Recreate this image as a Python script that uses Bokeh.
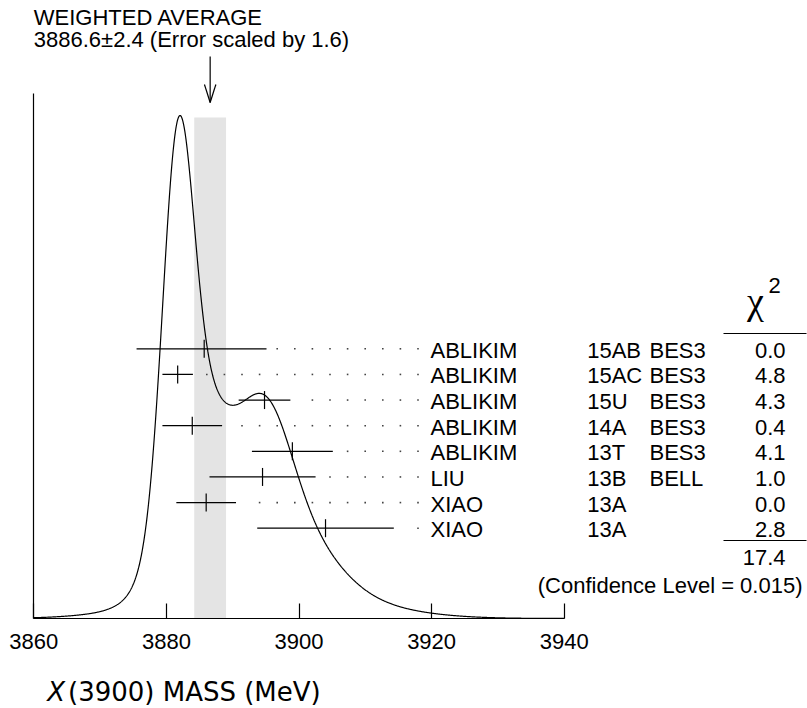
import numpy as np
from bokeh.plotting import figure
from bokeh.models import Range1d, LinearAxis, FixedTicker, ColumnDataSource, Label
from bokeh.core.properties import value
from bokeh.embed import file_html
from bokeh.resources import INLINE

# ---------------- data ----------------
names = ["ABLIKIM", "ABLIKIM", "ABLIKIM", "ABLIKIM", "ABLIKIM", "LIU", "XIAO", "XIAO"]
years = ["15AB", "15AC", "15U", "14A", "13T", "13B", "13A", "13A"]
expts = ["BES3", "BES3", "BES3", "BES3", "BES3", "BELL", "", ""]
mass = [3885.7, 3881.7, 3894.8, 3883.9, 3899.0, 3894.5, 3886.0, 3904.0]
err_lo = [10.2, 2.3, 3.9, 4.5, 6.1, 8.0, 4.5, 10.3]
err_hi = [9.4, 2.3, 3.9, 4.5, 6.1, 8.0, 4.5, 10.3]
chi2 = ["0.0", "4.8", "4.3", "0.4", "4.1", "1.0", "0.0", "2.8"]
chi2_total = "17.4"
conf_level = "0.015"
avg = 3886.6
avg_err = 2.4
err_scale = "1.6"
tick_values = [3860, 3880, 3900, 3920, 3940]
x_min, x_max = 3860, 3940

# ---------------- layout constants ----------------
W, H = 807, 708
PX = 6.63                      # pixels per MeV
X0 = x_min - 33.3 / PX         # data x at canvas left


def px2x(px):
    return x_min + (px - 33.3) / PX


FONT = "Liberation Sans"
FS = "22px"
row_top = 269.7
row_step = 25.63
row_y = [row_top - i * row_step for i in range(len(names))]
peak_h = 503.0

p = figure(width=W, height=H, x_range=Range1d(X0, X0 + W / PX), y_range=Range1d(-90, 618),
           output_backend="svg", toolbar_location=None,
           x_axis_location=None, y_axis_location=None, min_border=0)
p.outline_line_color = None
p.grid.visible = False
p.background_fill_color = "white"
p.border_fill_color = "white"

# weighted average band
p.quad(left=[avg - avg_err], right=[avg + avg_err], bottom=[0], top=[peak_h - 2],
       fill_color="#e4e4e4", line_color=None)

# ideogram curve
xs = np.linspace(x_min, x_max, 1601)
dens = np.zeros_like(xs)
for m, lo, hi in zip(mass, err_lo, err_hi):
    s_mean = 0.5 * (lo + hi)
    sig = np.where(xs < m, lo, hi)
    dens += (1.0 / s_mean ** 2) * np.exp(-0.5 * ((xs - m) / sig) ** 2)
curve = dens * peak_h / dens.max()
p.line(xs, curve, line_color="black", line_width=1.2)

# axes
xa = LinearAxis(fixed_location=0, bounds=(x_min, x_max),
                ticker=FixedTicker(ticks=tick_values, minor_ticks=[]),
                major_tick_in=15, major_tick_out=0, minor_tick_in=0, minor_tick_out=0,
                major_label_text_font=FONT, major_label_text_font_size=FS,
                major_label_text_color="black", major_label_standoff=15,
                axis_line_color="black", axis_line_width=1.2,
                major_tick_line_color="black", major_tick_line_width=1.2)
p.add_layout(xa, "below")
ya = LinearAxis(fixed_location=x_min, bounds=(0, 525),
                ticker=FixedTicker(ticks=[], minor_ticks=[]),
                major_tick_in=0, major_tick_out=0, minor_tick_in=0, minor_tick_out=0,
                major_label_text_font_size="0px",
                axis_line_color="black", axis_line_width=1.2)
p.add_layout(ya, "left")

# error bars
lo_x = [m - e for m, e in zip(mass, err_lo)]
hi_x = [m + e for m, e in zip(mass, err_hi)]
p.segment(x0=lo_x, y0=row_y, x1=hi_x, y1=row_y, line_color="black", line_width=1.2)
p.segment(x0=mass, y0=[y - 9 for y in row_y], x1=mass, y1=[y + 9 for y in row_y],
          line_color="black", line_width=1.2)

# dotted leaders
dot_end = px2x(417.5)
dot_step = 17.6 / PX
dx, dy = [], []
for h, y in zip(hi_x, row_y):
    k = 0
    while True:
        xv = dot_end - k * dot_step
        if xv <= h + 9.0 / PX:
            break
        dx.append(xv)
        dy.append(y)
        k += 1
p.scatter(dx, dy, marker="square", size=1.6, fill_color="#444444", line_color=None)

# row texts
ty = [y - 1.5 for y in row_y]
src = ColumnDataSource(dict(y=ty, names=names, years=years, expts=expts, chi2=chi2))
common = dict(text_font=value(FONT), text_font_size=FS, text_baseline="middle", text_color="black")
p.text(x=px2x(430), y="y", text="names", source=src, text_align="left", **common)
p.text(x=px2x(586.7), y="y", text="years", source=src, text_align="left", **common)
p.text(x=px2x(649), y="y", text="expts", source=src, text_align="left", **common)
chi_x = px2x(785)
p.text(x=chi_x, y="y", text="chi2", source=src, text_align="right", **common)


def lab(x, y, text, font=FONT, size=FS, align="left", baseline="middle", style="normal"):
    p.add_layout(Label(x=x, y=y, text=text, text_font=font, text_font_size=size,
                       text_align=align, text_baseline=baseline, text_font_style=style,
                       text_color="black"))


# chi2 header and sums
p.segment(x0=[px2x(723), px2x(723)], y0=[285, 78], x1=[px2x(806), px2x(806)], y1=[285, 78],
          line_color="black", line_width=1.2)
lab(px2x(755), 318, "\u03c7", font="Liberation Serif", size="38px", align="center")
lab(px2x(768), 333, "2")
lab(chi_x, 61, chi2_total, align="right")
lab(px2x(802), 33, "(Confidence Level = " + conf_level + ")", align="right")

# weighted average title and arrow
lab(x_min, 601, "WEIGHTED AVERAGE")
lab(x_min, 579, f"{avg}\u00b1{avg_err} (Error scaled by {err_scale})")
arm_dx = 5.7 / PX
p.segment(x0=[avg, avg, avg], y0=[562, 516, 516], x1=[avg, avg - arm_dx, avg + arm_dx],
          y1=[516, 534, 534], line_color="black", line_width=1.2)

# x-axis title
lab(px2x(46.7), -73, "X", font="DejaVu Sans", size="26px", baseline="alphabetic", style="italic")
lab(px2x(67.5), -73, "(3900) MASS (MeV)", font="DejaVu Sans", size="26px", baseline="alphabetic")

open("out.html", "w").write(file_html(p, INLINE))
